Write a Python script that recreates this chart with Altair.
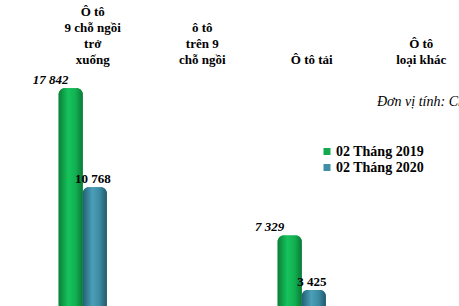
import altair as alt
import pandas as pd

B = "\u200b"
categories = [
    "Ô tô|9 chỗ ngồi|trở|xuống",
    B + "|ô tô|trên 9|chỗ ngồi",
    B + "|" + B + "|" + B + "|Ô tô tải",
    B + "|" + B + "|Ô tô|loại khác",
]
series = ["02 Tháng 2019", "02 Tháng 2020"]
values_2019 = [17842, 218, 7329, 1060]
values_2020 = [10768, 70, 3425, 335]
colors = ["#12a84e", "#3f8ea5"]
unit_text = "Đơn vị tính: Chiếc"

rows = []
for c, a, b in zip(categories, values_2019, values_2020):
    rows.append({"cat": c, "series": series[0], "value": a})
    rows.append({"cat": c, "series": series[1], "value": b})
df = pd.DataFrame(rows)

FONT = "Liberation Serif"
YMIN, YMAX = 2286, 19143

x = alt.X(
    "cat:N",
    sort=categories,
    scale=alt.Scale(range=[0, 438], paddingInner=0.56, paddingOuter=0.28),
    axis=alt.Axis(
        orient="top", title=None, domain=False, ticks=False, labelAngle=0,
        labelExpr="split(datum.label, '|')", labelFont=FONT, labelFontSize=13,
        labelFontWeight="bold", labelColor="black", labelPadding=52, labelOffset=10,
        labelLineHeight=16, labelBaseline="bottom", labelOverlap=False,
    ),
)
xo = alt.XOffset("series:N", sort=series, scale=alt.Scale(paddingInner=0, paddingOuter=0))
y = alt.Y("value:Q", scale=alt.Scale(domain=[YMIN, YMAX], zero=False, nice=False), axis=None)

base = alt.Chart(df).transform_calculate(
    label="replace(format(datum.value, ','), ',', ' ')"
)

bars = base.mark_bar(clip=True, cornerRadiusTopLeft=6, cornerRadiusTopRight=6).encode(
    x=x, xOffset=xo, y=y, y2=alt.datum(0),
    color=alt.Color(
        "series:N",
        scale=alt.Scale(domain=series, range=colors),
        legend=alt.Legend(
            title=None, orient="none", legendX=292, legendY=74.5,
            symbolType="square", symbolSize=49, symbolStrokeWidth=0,
            labelFont=FONT, labelFontSize=14, labelFontWeight="bold",
            labelColor="black", labelOffset=2, rowPadding=2, padding=0,
        ),
    ),
)

grads = [
    [("#0b7f37", 0), ("#16c35c", 0.4), ("#12b052", 0.7), ("#0a7a36", 1)],
    [("#255f73", 0), ("#4aa0b8", 0.4), ("#3b8aa2", 0.7), ("#22596d", 1)],
]
shades = []
for s, g in zip(series, grads):
    shades.append(
        base.transform_filter(alt.datum.series == s).mark_bar(
            clip=True, cornerRadiusTopLeft=6, cornerRadiusTopRight=6,
            color=alt.Gradient(
                gradient="linear", x1=0, x2=1, y1=0, y2=0,
                stops=[alt.GradientStop(color=c, offset=o) for c, o in g],
            ),
        ).encode(x=x, xOffset=xo, y=y, y2=alt.datum(0))
    )

text19 = base.transform_filter(
    (alt.datum.series == series[0]) & (alt.datum.value >= YMIN)
).mark_text(
    clip=True, font=FONT, fontSize=13, fontWeight="bold", fontStyle="italic",
    baseline="alphabetic", dx=-20, dy=-4, color="black",
).encode(x=x, xOffset=xo, y=y, text="label:N")

text20 = base.transform_filter(
    (alt.datum.series == series[1]) & (alt.datum.value >= YMIN)
).mark_text(
    clip=True, font=FONT, fontSize=13, fontWeight="bold",
    baseline="alphabetic", dx=-2, dy=-4, color="black",
).encode(x=x, xOffset=xo, y=y, text="label:N")

unit = alt.Chart(pd.DataFrame({"t": [unit_text]})).mark_text(
    font=FONT, fontSize=14, fontStyle="italic", align="left", baseline="middle", color="black",
).encode(x=alt.value(349), y=alt.value(32), text="t:N")

chart = alt.layer(bars, *shades, text19, text20, unit).properties(
    width=431, height=236,
    autosize=alt.AutoSizeParams(type="none"),
    padding={"left": 28, "top": 70, "right": 0, "bottom": 0},
    background="white",
).configure_view(stroke=None)

chart.save("out.html", embed_options={"renderer": "svg", "actions": False})
